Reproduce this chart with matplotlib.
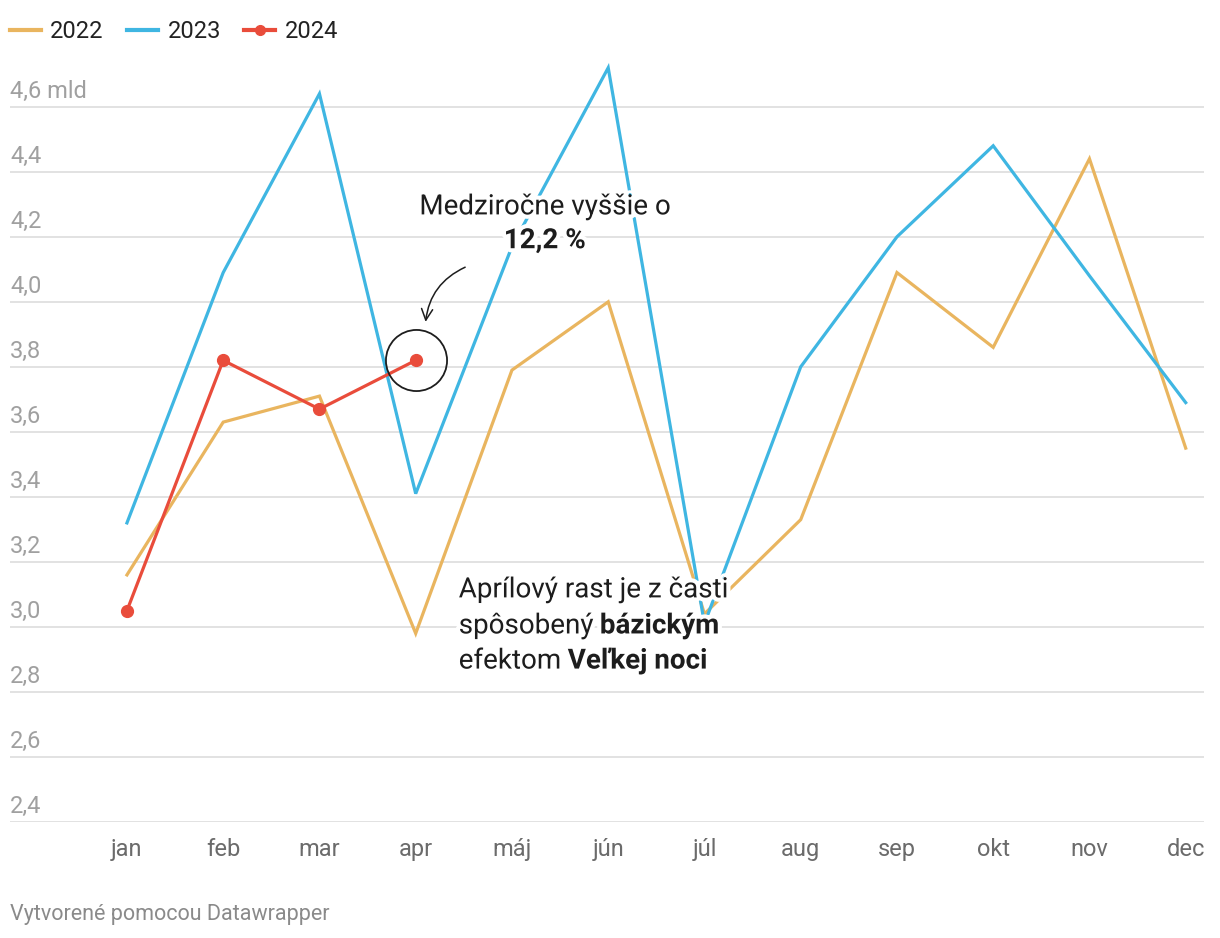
import matplotlib
matplotlib.use('Agg')
import matplotlib.pyplot as plt
import matplotlib.patheffects as pe
from matplotlib.lines import Line2D
from matplotlib.transforms import offset_copy

plt.rcParams['font.family'] = ['Roboto', 'DejaVu Sans']

months = ['jan', 'feb', 'mar', 'apr', 'máj', 'jún', 'júl', 'aug', 'sep', 'okt', 'nov', 'dec']
y2022 = [3.16, 3.63, 3.71, 2.98, 3.79, 4.00, 3.04, 3.33, 4.09, 3.86, 4.44, 3.55]
y2023 = [3.32, 4.09, 4.64, 3.41, 4.17, 4.72, 3.01, 3.80, 4.20, 4.48, 4.08, 3.69]
y2024 = [3.05, 3.82, 3.67, 3.82]
yticks = [2.4, 2.6, 2.8, 3.0, 3.2, 3.4, 3.6, 3.8, 4.0, 4.2, 4.4, 4.6]
ylabels = ['2,4', '2,6', '2,8', '3,0', '3,2', '3,4', '3,6', '3,8', '4,0', '4,2', '4,4', '4,6 mld']

c22 = '#e9b55f'
c23 = '#3fb6e2'
c24 = '#e94c3b'
ink = '#1d1d1d'

W, H = 1220, 938
fig = plt.figure(figsize=(12.2, 9.38), dpi=100)
ax = fig.add_axes([10 / W, 1 - 822 / H, (1204 - 10) / W, (822 - 58) / H])

x = list(range(12))
ax.plot(x, y2022, color=c22, lw=2.3, solid_joinstyle='miter', clip_on=False, zorder=3)
ax.plot(x, y2023, color=c23, lw=2.3, solid_joinstyle='miter', clip_on=False, zorder=4)
ax.plot(x[:4], y2024, color=c24, lw=2.3, marker='o', ms=8.5, clip_on=False, zorder=5)

ax.set_xlim(-1.215, 11.19)
ax.set_ylim(2.4, 4.75)

for v in yticks:
    ax.axhline(v, color='#e2e2e2', lw=1.4, zorder=1)

ax.set_yticks([])
tr = offset_copy(ax.get_yaxis_transform(), fig=fig, x=0, y=4, units='dots')
for v, lab in zip(yticks, ylabels):
    ax.text(0, v, lab, transform=tr, ha='left', va='bottom', fontsize=17, color='#a0a0a0')

ax.set_xticks(x)
ax.set_xticklabels(months, fontsize=17, color='#6b6b6b')
ax.tick_params(axis='x', length=0, pad=11.5)
for s in ax.spines.values():
    s.set_visible(False)

# legend
handles = [Line2D([], [], color=c22, lw=3),
           Line2D([], [], color=c23, lw=3),
           Line2D([], [], color=c24, lw=3, marker='o', ms=7)]
fig.legend(handles, ['2022', '2023', '2024'], loc='upper left', ncol=3,
           bbox_to_anchor=(10 / W, 1 - 20 / H), frameon=False, fontsize=17,
           handlelength=1.3, handletextpad=0.4, columnspacing=1.0,
           borderpad=0, borderaxespad=0, labelcolor='#222222')

# annotations
halo = [pe.withStroke(linewidth=6, foreground='white')]
ax.plot(3, y2024[3], marker='o', ms=44, mfc='none', mec=ink, mew=1.3, zorder=6, clip_on=False)
ax.text(4.34, 4.292, 'Medziročne vyššie o', ha='center', va='center', fontsize=20,
        color=ink, path_effects=halo, zorder=7)
ax.text(4.34, 4.188, '12,2 %', ha='center', va='center', fontsize=20, weight='bold',
        color=ink, path_effects=halo, zorder=7)
ax.annotate('', xy=(3.1, 3.93), xytext=(3.54, 4.11),
            arrowprops=dict(arrowstyle='->,head_length=0.8,head_width=0.4', color=ink,
                            lw=1.1, connectionstyle='arc3,rad=0.3'), zorder=7)

t1 = ax.text(3.447, 3.114, 'Aprílový rast je z časti', ha='left', va='center', fontsize=20,
             color=ink, path_effects=halo, zorder=7)
t2 = ax.text(3.447, 3.003, 'spôsobený ', ha='left', va='center', fontsize=20,
             color=ink, path_effects=halo, zorder=7)
ax.annotate('bázickým', xy=(1, 0), xycoords=t2, ha='left', va='bottom', fontsize=20,
            weight='bold', color=ink, path_effects=halo, zorder=7)
t3 = ax.text(3.447, 2.895, 'efektom ', ha='left', va='center', fontsize=20,
             color=ink, path_effects=halo, zorder=7)
ax.annotate('Veľkej noci', xy=(1, 0), xycoords=t3, ha='left', va='bottom', fontsize=20,
            weight='bold', color=ink, path_effects=halo, zorder=7)

fig.text(10 / W, 1 - 914 / H, 'Vytvorené pomocou Datawrapper', ha='left', va='center',
         fontsize=15.5, color='#8a8a8a')

fig.savefig('out.png', dpi=100, facecolor='white')
